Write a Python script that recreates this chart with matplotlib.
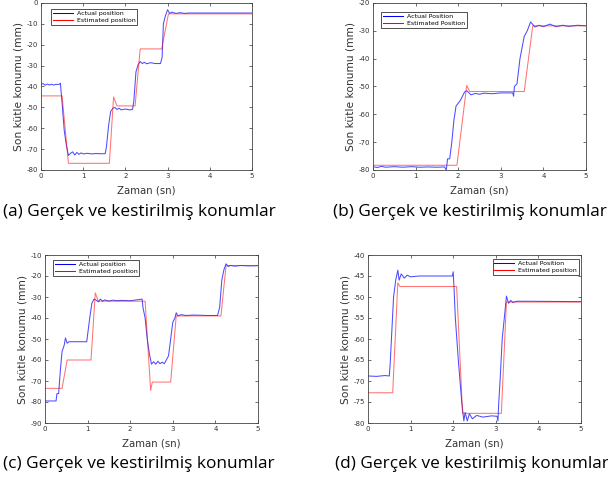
import matplotlib.pyplot as plt

plt.rcParams['axes.unicode_minus'] = False

# ---- panel (a) ----
a_t_act = [0, 0.05, 0.1, 0.15, 0.2, 0.25, 0.3, 0.35, 0.43, 0.46, 0.5, 0.55, 0.6, 0.65, 0.7, 0.75, 0.8,
           0.85, 0.9, 0.95, 1.0, 1.1, 1.2, 1.3, 1.4, 1.52, 1.55, 1.6, 1.65, 1.7, 1.75, 1.8, 1.85, 1.9,
           2.0, 2.1, 2.17, 2.2, 2.25, 2.3, 2.35, 2.4, 2.45, 2.5, 2.6, 2.7, 2.83, 2.87, 2.9, 2.95, 3.0,
           3.05, 3.1, 3.2, 3.3, 3.4, 3.5, 5.0]
a_act = [-39, -38.6, -39.4, -38.8, -39.3, -38.9, -39.3, -39.0, -39.0, -38.4, -48, -61, -68, -73, -72,
         -71.3, -72.8, -71.6, -72.5, -71.8, -72.3, -72.0, -72.3, -72.1, -72.2, -72.2, -69, -59, -52,
         -50.5, -50, -51, -50.4, -51.2, -50.8, -51.2, -51.0, -47, -33, -29.6, -28, -29, -28.4, -29.1,
         -28.6, -29.0, -29.0, -26, -10, -6, -3.2, -5.0, -4.4, -5.0, -4.6, -5.0, -4.8, -4.8]
a_t_est = [0, 0.5, 0.65, 1.62, 1.72, 1.8, 2.23, 2.35, 2.86, 3.02, 5.0]
a_est = [-44.5, -44.5, -76.8, -76.8, -45, -49.3, -49.3, -22, -22, -5.2, -5.2]

# ---- panel (b) ----
b_t_act = [0, 0.1, 0.2, 0.3, 0.5, 0.7, 0.9, 1.1, 1.3, 1.5, 1.68, 1.72, 1.75, 1.8, 1.85, 1.9, 1.95,
           2.05, 2.15, 2.2, 2.3, 2.4, 2.5, 2.6, 2.8, 3.0, 3.28, 3.3, 3.32, 3.38, 3.45, 3.55, 3.62, 3.7,
           3.8, 3.9, 4.0, 4.15, 4.3, 4.45, 4.6, 4.8, 5.0]
b_act = [-78.8, -79.1, -78.7, -79.0, -78.8, -79.0, -78.8, -79.0, -78.9, -79.0, -78.9, -80, -76, -76,
         -70, -62, -57, -55, -52, -51.5, -53, -52.5, -52.8, -52.4, -52.6, -52.3, -52.3, -53.5, -50,
         -49, -40, -32, -30, -26.8, -28.6, -28.0, -28.5, -27.6, -28.5, -28.0, -28.4, -28.0, -28.2]
b_t_est = [0, 1.97, 2.2, 2.27, 3.55, 3.75, 5.0]
b_est = [-78.3, -78.3, -49.6, -51.8, -51.8, -28.2, -28.2]

# ---- panel (c) ----
c_t_act = [0, 0.26, 0.28, 0.32, 0.36, 0.4, 0.45, 0.48, 0.52, 0.56, 0.7, 0.98, 1.0, 1.05, 1.1, 1.15,
           1.2, 1.25, 1.3, 1.35, 1.4, 1.5, 1.6, 1.7, 1.8, 2.0, 2.28, 2.3, 2.35, 2.4, 2.45, 2.5, 2.55,
           2.6, 2.65, 2.7, 2.75, 2.8, 2.9, 2.95, 3.0, 3.05, 3.08, 3.12, 3.2, 3.3, 3.5, 3.8, 4.05, 4.1,
           4.15, 4.2, 4.25, 4.3, 4.35, 4.45, 4.6, 4.8, 5.0]
c_act = [-79.5, -79.5, -76, -76, -65, -56, -53, -49.5, -52, -51.3, -51.3, -51.3, -48, -40, -33, -31,
         -31.5, -32.3, -31.0, -32.0, -31.4, -31.9, -31.5, -31.8, -31.6, -31.8, -31.0, -35, -40, -50,
         -57, -62, -60.8, -62, -60.6, -61.8, -61, -61.8, -58, -50, -42, -40, -37.5, -39, -38.4,
         -38.8, -38.6, -38.8, -38.8, -35, -22, -17, -14.2, -15.5, -15.0, -15.3, -15.0, -15.2, -15.1]
c_t_est = [0, 0.4, 0.52, 1.08, 1.18, 1.25, 2.35, 2.48, 2.52, 2.95, 3.08, 4.13, 4.25, 5.0]
c_est = [-73.5, -73.5, -60, -60, -28, -32, -32, -74.5, -70.5, -70.5, -39, -39, -15, -15]

# ---- panel (d) ----
d_t_act = [0, 0.2, 0.4, 0.5, 0.52, 0.55, 0.6, 0.65, 0.7, 0.73, 0.78, 0.85, 0.92, 1.0, 1.2, 1.5, 1.8,
           1.98, 2.0, 2.02, 2.05, 2.12, 2.2, 2.25, 2.28, 2.33, 2.38, 2.45, 2.55, 2.7, 2.9, 3.03, 3.05,
           3.07, 3.1, 3.15, 3.2, 3.25, 3.3, 3.35, 3.4, 3.5, 5.0]
d_act = [-68.8, -68.9, -68.7, -68.8, -66, -60, -50, -46, -43.6, -46, -44.5, -45.5, -44.8, -45.2, -45,
         -45, -45, -45, -44, -48, -55, -65, -75, -79.5, -77.5, -79.5, -77.8, -79, -78.2, -78.6, -78.3,
         -78.4, -79.5, -75, -70, -60, -55, -49.8, -51.5, -50.8, -51.3, -51.0, -51.1]
d_t_est = [0, 0.58, 0.7, 0.75, 2.08, 2.22, 3.13, 3.25, 5.0]
d_est = [-72.8, -72.8, -46.6, -47.5, -47.5, -77.7, -77.7, -51.2, -51.2]

captions = ['(a) Gerçek ve kestirilmiş konumlar', '(b) Gerçek ve kestirilmiş konumlar',
            '(c) Gerçek ve kestirilmiş konumlar', '(d) Gerçek ve kestirilmiş konumlar']

W, H = 608, 488
fig = plt.figure(figsize=(W / 100, H / 100), dpi=100)


def px_axes(left, top, right, bottom):
    return fig.add_axes([left / W, 1 - bottom / H, (right - left) / W, (bottom - top) / H])


panels = [
    (px_axes(41, 3, 252, 170), a_t_act, a_act, a_t_est, a_est, (-80, 0), range(-80, 1, 10),
     ['Actual position', 'Estimated position'], (0.047, 0.964), 'upper left'),
    (px_axes(373, 3, 586, 170), b_t_act, b_act, b_t_est, b_est, (-80, -20), range(-80, -19, 10),
     ['Actual Position', 'Estimated Position'], (0.038, 0.946), 'upper left'),
    (px_axes(45, 255, 258, 423), c_t_act, c_act, c_t_est, c_est, (-90, -10), range(-90, -9, 10),
     ['Actual position', 'Estimated position'], (0.038, 0.97), 'upper left'),
    (px_axes(368, 255, 581, 423), d_t_act, d_act, d_t_est, d_est, (-80, -40), range(-80, -39, 5),
     ['Actual Position', 'Estimated position'], (0.99, 0.976), 'upper right'),
]

for ax, ta, ya, te, ye, ylim, yticks, labels, lpos, lloc in panels:
    ax.plot(ta, ya, color='#0000ff', lw=0.75, alpha=0.7, label=labels[0])
    ax.plot(te, ye, color='#ff0000', lw=0.75, alpha=0.55, label=labels[1])
    ax.set_xlim(0, 5)
    ax.set_ylim(*ylim)
    ax.set_xticks(range(0, 6))
    ax.set_yticks(list(yticks))
    ax.tick_params(direction='in', length=2.5, width=0.5, labelsize=5, colors='#333333',
                   top=True, right=True, pad=2)
    for s in ax.spines.values():
        s.set_linewidth(0.6)
        s.set_color('#444444')
    ax.set_xlabel('Zaman (sn)', fontsize=7.3, color='#333333', labelpad=5)
    ax.set_ylabel('Son kütle konumu (mm)', fontsize=7.7, color='#333333', labelpad=2)
    leg = ax.legend(loc=lloc, bbox_to_anchor=lpos, fontsize=4.5, frameon=True, fancybox=False,
                    borderpad=0.3, handlelength=3.2, handletextpad=0.6, labelspacing=0.25,
                    borderaxespad=0)
    leg.get_frame().set_edgecolor('black')
    leg.get_frame().set_linewidth(0.6)
    for lh in leg.get_lines():
        lh.set_alpha(1)

cap_pos = [(3, 212), (333, 212), (3, 464), (335, 464)]
for (x, y), txt in zip(cap_pos, captions):
    fig.text(x / W, 1 - y / H, txt, fontsize=12.45, family='Open Sans', va='center', ha='left')

fig.savefig('out.png', dpi=100)
